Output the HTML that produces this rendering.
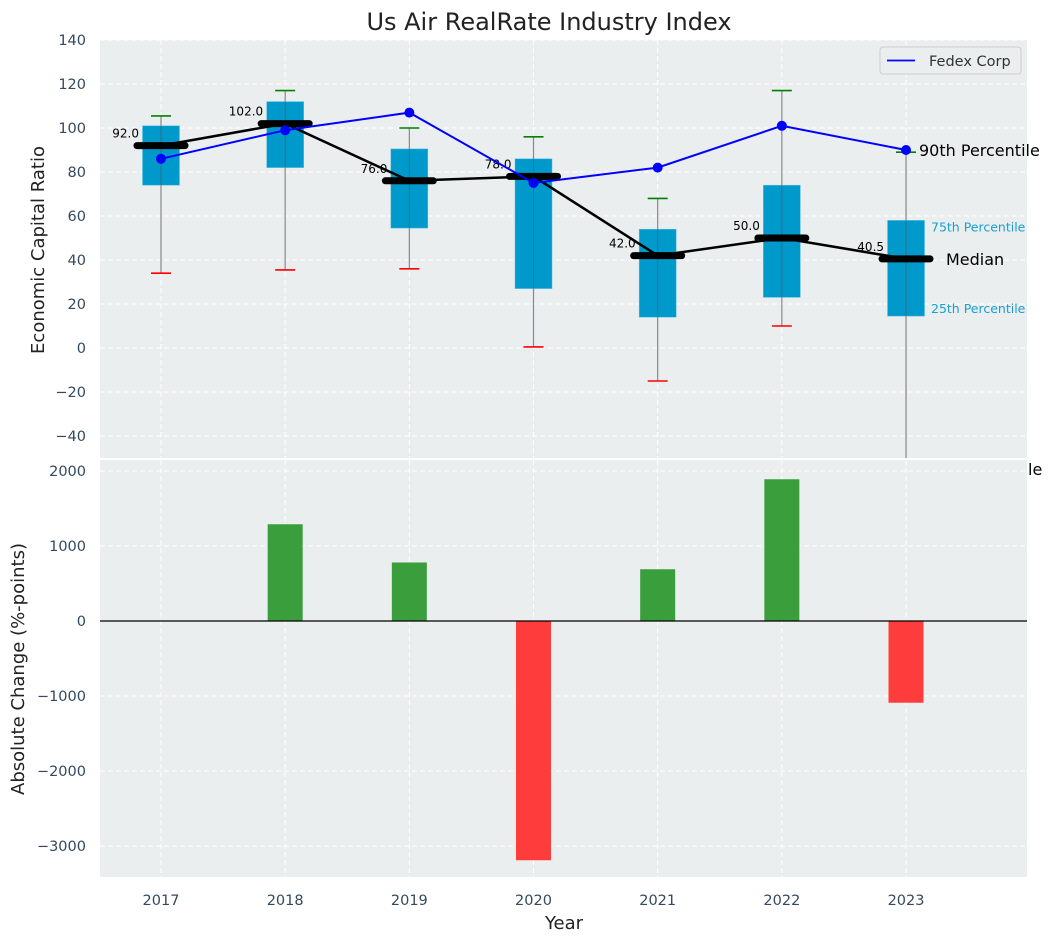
<!DOCTYPE html>
<html><head><meta charset="utf-8"><style>
body{margin:0;background:#fff;}
svg{display:block;font-family:"DejaVu Sans","Liberation Sans",sans-serif;}
</style></head><body>
<svg id="chart" width="1054" height="942" xmlns="http://www.w3.org/2000/svg"></svg>
<script>
const years=[2017,2018,2019,2020,2021,2022,2023];
const q1=[74,82,54.5,27,14,23,14.5];
const q3=[101,112,90.5,86,54,74,58];
const medians=[92,102,76,78,42,50,40.5];
const whiskHi=[105.5,117,100,96,68,117,89];
const whiskLo=[34,35.5,36,0.5,-15,10,-60];
const fedex=[86,99,107,75,82,101,90];
const changes=[null,1290,780,-3190,690,1890,-1090];
const topTicks=[-40,-20,0,20,40,60,80,100,120,140];
const botTicks=[-3000,-2000,-1000,0,1000,2000];

const NS="http://www.w3.org/2000/svg";
const svg=document.getElementById('chart');
function el(tag,attrs,parent){const e=document.createElementNS(NS,tag);for(const k in attrs)e.setAttribute(k,attrs[k]);(parent||svg).appendChild(e);return e;}
const L=100,R=1027,T1=40,B1=458,T2=460,B2=877;
const x=v=>161+(v-2017)*124.17;
const y1=v=>348-v*2.2;
const y2=v=>621-v*0.075;
const tickCol="#34495e";

let bg=el('rect',{x:L,y:T1,width:R-L,height:B1-T1,fill:'#eaeeef'});


let bg2=el('rect',{x:L,y:T2,width:R-L,height:B2-T2,fill:'#eaeeef'});



const clip=el('clipPath',{id:'c1'});el('rect',{x:L,y:T1,width:R-L,height:B1-T1},clip);
const g1=el('g',{'clip-path':'url(#c1)'});



years.forEach(yr=>{
  el('line',{x1:x(yr),x2:x(yr),y1:T1,y2:B1,stroke:'#fff','stroke-dasharray':'5,3','stroke-width':1},g1);
  el('line',{x1:x(yr),x2:x(yr),y1:T2,y2:B2,stroke:'#fff','stroke-dasharray':'5,3','stroke-width':1});
  const t=el('text',{x:x(yr),y:905,'font-size':14.5,'text-anchor':'middle',fill:tickCol});t.textContent=yr;
  
  
});
topTicks.forEach(v=>{
  el('line',{x1:L,x2:R,y1:y1(v),y2:y1(v),stroke:'#fff','stroke-dasharray':'5,3'},g1);
  const t=el('text',{x:86,y:y1(v)+5,'font-size':14.5,'text-anchor':'end',fill:tickCol});t.textContent=v<0?'\u2212'+(-v):v;
  
  
});
botTicks.forEach(v=>{
  el('line',{x1:L,x2:R,y1:y2(v),y2:y2(v),stroke:'#fff','stroke-dasharray':'5,3'});
  const t=el('text',{x:86,y:y2(v)+5,'font-size':14.5,'text-anchor':'end',fill:tickCol});t.textContent=v<0?'\u2212'+(-v):v;
  
  
});

years.forEach((yr,i)=>{
  const cx=x(yr),w=37;
  const wl=el('line',{x1:cx,x2:cx,y1:y1(whiskHi[i]),y2:y1(whiskLo[i]),stroke:'#888','stroke-width':1.2},g1);
  
  
  const b=el('rect',{x:cx-w/2,y:y1(q3[i]),width:w,height:y1(q1[i])-y1(q3[i]),fill:'#0099cc',stroke:'#5bc0e6','stroke-width':0.5},g1);
  
  
  el('line',{x1:cx,x2:cx,y1:y1(q3[i]),y2:y1(q1[i]),stroke:'#555','stroke-width':1,'stroke-opacity':0.6},g1);
  el('line',{x1:cx-10,x2:cx+10,y1:y1(whiskHi[i]),y2:y1(whiskHi[i]),stroke:'green','stroke-width':1.6},g1);
  el('line',{x1:cx-10,x2:cx+10,y1:y1(whiskLo[i]),y2:y1(whiskLo[i]),stroke:'red','stroke-width':1.6},g1);
});
let mp=years.map((yr,i)=>x(yr)+','+y1(medians[i])).join(' ');
const ml=el('polyline',{points:mp,fill:'none',stroke:'#000','stroke-width':2.5},g1);


years.forEach((yr,i)=>{
  const m=el('line',{x1:x(yr)-24,x2:x(yr)+24,y1:y1(medians[i]),y2:y1(medians[i]),stroke:'#000','stroke-width':7,'stroke-linecap':'round'},g1);
  
  
  const t=el('text',{x:x(yr)-22,y:y1(medians[i])-8,'font-size':12,'text-anchor':'end',fill:'#000'},g1);t.textContent=medians[i].toFixed(1);
  
  
});
const fp=years.map((yr,i)=>x(yr)+','+y1(fedex[i])).join(' ');
const fl=el('polyline',{points:fp,fill:'none',stroke:'blue','stroke-width':2},g1);


years.forEach((yr,i)=>{
  const c=el('circle',{cx:x(yr),cy:y1(fedex[i]),r:5,fill:'blue'},g1);
  
  
});
const ann=[[919,y1(90)+6,'90th Percentile',16,'#000'],[931,y1(58)+11,'75th Percentile',12.5,'#1a9fd0'],[946,y1(40.5)+6,'Median',16,'#000'],[931,y1(14.5)-3,'25th Percentile',12.5,'#1a9fd0']];
ann.forEach(a=>{const t=el('text',{x:a[0],y:a[1],'font-size':a[3],fill:a[4]});t.textContent=a[2];
  
  });
const le=el('text',{x:1028,y:475,'font-size':16,fill:'#000'});le.textContent='le';



const lg=el('g',{});


el('rect',{x:880,y:47,width:141,height:27,rx:3,fill:'#eaeeef',stroke:'#ccc'},lg);
el('line',{x1:887,x2:915,y1:60.5,y2:60.5,stroke:'blue','stroke-width':1.8},lg);
const lt=el('text',{x:929,y:66,'font-size':14.5,fill:'#333'},lg);lt.textContent='Fedex Corp';

years.forEach((yr,i)=>{
  if(changes[i]===null)return;
  const v=changes[i];
  const b=el('rect',{x:x(yr)-17.5,y:Math.min(y2(v),y2(0)),width:35,height:Math.abs(y2(v)-y2(0)),fill:v>=0?'#3a9e3c':'#ff3c3c'});
  
  
});
el('line',{x1:L,x2:R,y1:y2(0),y2:y2(0),stroke:'#000','stroke-width':1.2});

const tt=el('text',{x:549,y:30,'font-size':24,'text-anchor':'middle',fill:'#222'});tt.textContent='Us Air RealRate Industry Index';


const yl=el('text',{x:0,y:0,'font-size':18,'text-anchor':'middle',fill:'#222',transform:'translate(44,250) rotate(-90)'});yl.textContent='Economic Capital Ratio';


const yl2=el('text',{x:0,y:0,'font-size':18,'text-anchor':'middle',fill:'#222',transform:'translate(24,669) rotate(-90)'});yl2.textContent='Absolute Change (%-points)';


const xl=el('text',{x:564,y:929,'font-size':18,'text-anchor':'middle',fill:'#222'});xl.textContent='Year';


</script>
</body></html>
